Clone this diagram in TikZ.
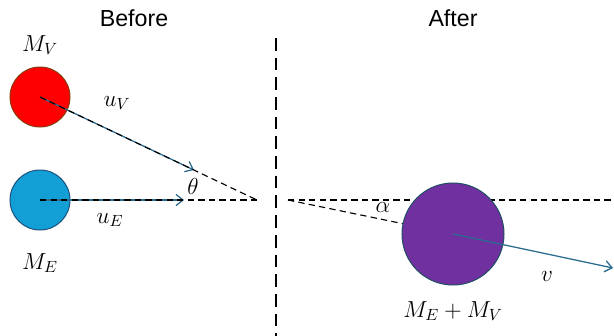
\RequirePackage{fix-cm}
\documentclass[tikz,border=0pt]{standalone}
\usepackage{fontspec}
\setsansfont{Liberation Sans}
\usetikzlibrary{arrows.meta}
\definecolor{ballred}{HTML}{FF0000}
\definecolor{ballredline}{HTML}{843C0C}
\definecolor{ballblue}{HTML}{119FD6}
\definecolor{ballblueline}{HTML}{1F4E79}
\definecolor{ballpurple}{HTML}{7030A0}
\definecolor{ballpurpleline}{HTML}{1F4E60}
\definecolor{velblue}{HTML}{2A6B8F}
\tikzset{
  ball/.style={circle, inner sep=0pt, line width=0.7pt},
  heading/.style={font=\sffamily\fontsize{16.5}{19}\selectfont},
  lbl/.style={font=\fontsize{16.5}{19}\selectfont},
  guide/.style={dash pattern=on 4.5pt off 3pt, line width=0.8pt},
  vel/.style={velblue, line width=0.9pt, -{Straight Barb[length=5pt, width=8pt]}},
}

\begin{document}
\begin{tikzpicture}[x=0.025cm, y=-0.025cm]
  \useasboundingbox (0,0) rectangle (614,336);

  % Headings
  \node[heading] (before) at (134,18) {Before};
  \node[heading] (after) at (453,18) {After};

  % Dividing line
  \coordinate (divtop) at (276,38);
  \coordinate (divbot) at (276,336);
  \draw[dash pattern=on 9pt off 5pt, line width=1pt] (divtop) -- (divbot);

  % Before: the two bodies
  \node[ball, fill=ballred, draw=ballredline, minimum size=1.5cm] (vball) at (40,97) {};
  \node[ball, fill=ballblue, draw=ballblueline, minimum size=1.5cm] (eball) at (40,200) {};
  \node[lbl] (mv) at (40,45) {$M_V$};
  \node[lbl] (me) at (40,263) {$M_E$};

  % Before: velocities
  \coordinate (meetB) at (257,200);
  \coordinate (uvtip) at (194,170);
  \coordinate (uetip) at (184,200);
  \draw[vel] (vball.center) -- (uvtip);
  \draw[vel] (eball.center) -- (uetip);
  \draw[guide] (vball.center) -- (meetB);
  \draw[guide] (eball.center) -- (meetB);
  \node[lbl] (uv) at (117,103) {$u_V$};
  \node[lbl] (ue) at (110,220) {$u_E$};
  \node[lbl] (theta) at (193,186) {$\theta$};

  % After: merged body
  \coordinate (meetA) at (288,200);
  \coordinate (axisend) at (614,200);
  \coordinate (mc) at (453,234);
  \draw[guide] (meetA) -- (axisend);
  \draw[guide] (meetA) -- (mc);
  \node[ball, fill=ballpurple, draw=ballpurpleline, minimum size=2.55cm] (merged) at (mc) {};
  \coordinate (vtip) at (613,268);
  \draw[vel] (merged.center) -- (vtip);
  \node[lbl] (alpha) at (383,208) {$\alpha$};
  \node[lbl] (v) at (547,277) {$v$};
  \node[lbl] (msum) at (453,311) {$M_E + M_V$};
\end{tikzpicture}
\end{document}
